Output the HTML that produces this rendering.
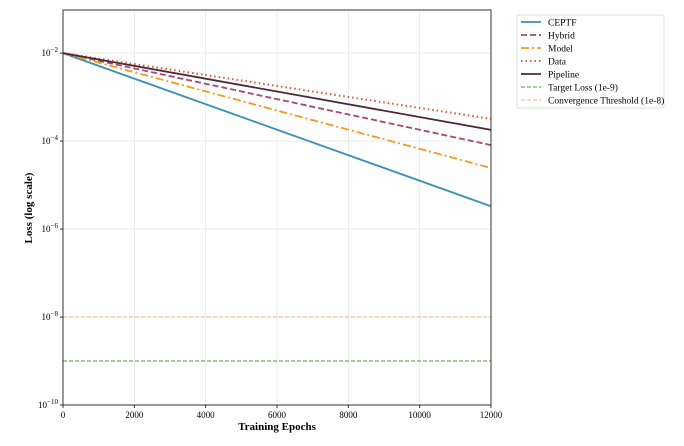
<!DOCTYPE html>
<html><head><meta charset="utf-8"><style>
body{margin:0;background:#fff;font-family:"Liberation Serif",serif;}
svg text{font-family:"Liberation Serif",serif;}
</style></head><body>
<svg id="chart" width="684" height="441" xmlns="http://www.w3.org/2000/svg">
<g id="grid"></g>
<g id="series"></g>
<g id="axes"></g>
<text x="277" y="430" font-size="11" font-weight="bold" text-anchor="middle">Training Epochs</text>
<text transform="translate(32,208) rotate(-90)" font-size="11" font-weight="bold" text-anchor="middle">Loss (log scale)</text>
<g id="legend"></g>
</svg>
<script>
const epochs=[0,12000];
const ceptf=[1e-2,3.3e-6];
const hybrid=[1e-2,8.1e-5];
const model=[1e-2,2.45e-5];
const data=[1e-2,3.2e-4];
const pipeline=[1e-2,1.8e-4];
const targetLoss=1e-9;
const convergence=1e-8;
const xTicks=[0,2000,4000,6000,8000,10000,12000];
const yTickExps=[-2,-4,-6,-8,-10];

const L=63,R=491,T=10,B=405;
const ymin=-10,ymax=-1.02;
const xs=v=>L+(v-0)/(12000-0)*(R-L);
const ys=v=>B-(Math.log10(v)-ymin)/(ymax-ymin)*(B-T);
const NS="http://www.w3.org/2000/svg";
function mk(tag,attrs,parent){const e=document.createElementNS(NS,tag);for(const k in attrs)e.setAttribute(k,attrs[k]);parent.appendChild(e);return e;}
const grid=document.getElementById('grid'),axes=document.getElementById('axes'),ser=document.getElementById('series'),leg=document.getElementById('legend');
xTicks.forEach(t=>{const x=xs(t);
 const g=mk('line',{x1:x,x2:x,y1:T,y2:B,stroke:'#e6e6e6','stroke-width':0.8},grid);
 
 const tk=mk('line',{x1:x,x2:x,y1:B,y2:B+3,stroke:'#333'},axes);
 
 const tx=mk('text',{x:x,y:B+13,'font-size':9,'text-anchor':'middle'},axes);tx.textContent=t;
 
});
yTickExps.forEach(e=>{const y=ys(Math.pow(10,e));
 const g=mk('line',{x1:L,x2:R,y1:y,y2:y,stroke:'#e6e6e6','stroke-width':0.8},grid);
 
 const tk=mk('line',{x1:L-3,x2:L,y1:y,y2:y,stroke:'#333'},axes);
 
 const tx=mk('text',{x:L-5,y:y+3,'font-size':9,'text-anchor':'end'},axes);
 
 tx.appendChild(document.createTextNode('10'));
 const sp=mk('tspan',{dy:-4,'font-size':7},tx);sp.textContent='\u2212'+Math.abs(e);
});
const fr=mk('rect',{x:L,y:T,width:R-L,height:B-T,fill:'none',stroke:'#333','stroke-width':1},axes);


const defs=[
 {name:'CEPTF',vals:ceptf,color:'#3a90b5',dash:'',w:1.8},
 {name:'Hybrid',vals:hybrid,color:'#a84575',dash:'6,3',w:1.8},
 {name:'Model',vals:model,color:'#f39a1e',dash:'8,3,2,3',w:1.8},
 {name:'Data',vals:data,color:'#dd5630',dash:'1.5,3',w:2},
 {name:'Pipeline',vals:pipeline,color:'#4a2a36',dash:'',w:1.8}
];
[{v:convergence,c:'#f0b36a',n:'convergence-line'},{v:targetLoss,c:'#4a9a3a',n:'target-loss-line'}].forEach(h=>{
 const l=mk('line',{x1:L,x2:R,y1:ys(h.v),y2:ys(h.v),stroke:h.c,'stroke-width':1,'stroke-dasharray':'4,2'},ser);
 
});
defs.forEach(d=>{
 const pts=epochs.map((e,i)=>xs(e)+','+ys(d.vals[i])).join(' ');
 const p=mk('polyline',{points:pts,fill:'none',stroke:d.color,'stroke-width':d.w,'stroke-dasharray':d.dash},ser);
 
});
// legend
const lb=mk('rect',{x:517,y:15,width:147,height:93,fill:'#fff',stroke:'#ddd',rx:2},leg);

const items=defs.map(d=>({n:d.name,c:d.color,dash:d.dash,w:d.w})).concat([
 {n:'Target Loss (1e-9)',c:'#4a9a3a',dash:'4,2',w:1},{n:'Convergence Threshold (1e-8)',c:'#f0b36a',dash:'4,2',w:1}]);
items.forEach((it,i)=>{const y=22+i*13;
 const g=mk('g',{},leg);
 mk('line',{x1:521,x2:541,y1:y,y2:y,stroke:it.c,'stroke-width':it.w,'stroke-dasharray':it.dash},g);
 const t=mk('text',{x:548,y:y+3.5,'font-size':9.5},g);t.textContent=it.n;
});
</script>
</body></html>
